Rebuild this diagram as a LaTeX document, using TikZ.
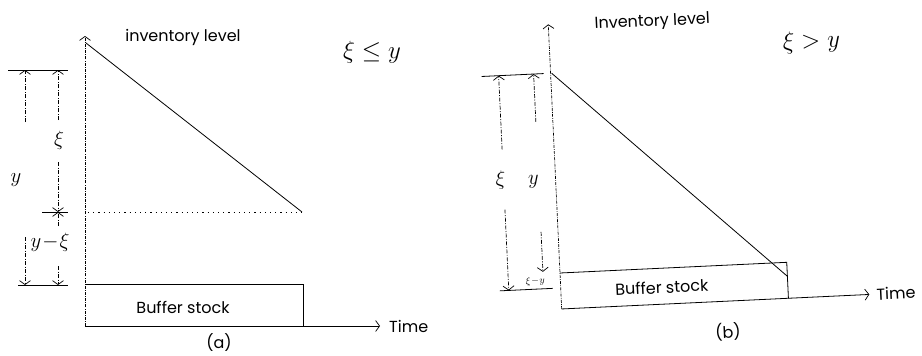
\documentclass[tikz,border=0pt]{standalone}
\usepackage{fontspec}
\setmainfont{Poppins}
\usetikzlibrary{arrows.meta}
\begin{document}
\begin{tikzpicture}[x=1pt,y=-1pt,
  >={Straight Barb[length=4pt,width=11pt,line width=0.7pt]},
  axisline/.style={line width=0.7pt, dash pattern=on 3pt off 1.2pt on 0.8pt off 1.2pt},
  dimline/.style={line width=0.7pt, dash pattern=on 4pt off 1.5pt on 1pt off 1.5pt},
  solidline/.style={line width=0.8pt},
  dotline/.style={line width=0.8pt, dash pattern=on 1.2pt off 4pt},
  lbl/.style={font=\fontsize{16}{18}\selectfont, inner sep=0pt},
  hand/.style={font=\fontsize{22}{24}\selectfont, inner sep=1pt},
  cond/.style={font=\fontsize{24}{26}\selectfont, inner sep=1pt},
  small/.style={font=\fontsize{10}{11}\selectfont, inner sep=0pt},
]
\useasboundingbox (0,0) rectangle (922,356);

% ---------------- panel (a) ----------------
\coordinate (aO) at (85,326);
\coordinate (aTop) at (85,36);
\draw[axisline,->] (aO) -- (aTop);
\node[lbl] (alev) at (183,37) {inventory level};
\node[cond] (acond) at (372,52) {$\xi \le y$};
\coordinate (aS) at (86,43);
\coordinate (aE) at (302,212);
\draw[solidline] (aS) -- (aE);
\coordinate (aD) at (88,212);
\draw[dotline] (aD) -- (aE);
\coordinate (aB1) at (85,284);
\coordinate (aB2) at (303,284);
\coordinate (aB3) at (303,326);
\draw[solidline] (aB1) -- (aB2) -- (aB3);
\node[lbl] (abuf) at (183,307) {Buffer stock};
\coordinate (aT) at (380,326);
\draw[solidline,->] (aO) -- (aT);
\node[lbl,anchor=west] (atime) at (389,326) {Time};
\node[lbl] (acap) at (219,343) {(a)};

% dimension ticks (a)
\coordinate (atk1l) at (8,70);   \coordinate (atk1r) at (68,70);
\coordinate (atk2l) at (42,212); \coordinate (atk2r) at (68,212);
\coordinate (atk3l) at (18,285); \coordinate (atk3r) at (68,285);
\draw[solidline] (atk1l) -- (atk1r);
\draw[solidline] (atk2l) -- (atk2r);
\draw[solidline] (atk3l) -- (atk3r);
% y
\coordinate (ay1) at (25,70);  \coordinate (aya) at (25,122);
\coordinate (ayb) at (25,237); \coordinate (ay2) at (25,285);
\draw[dimline,->] (aya) -- (ay1);
\draw[dimline,->] (ayb) -- (ay2);
\node[hand] (aylab) at (16,180) {$y$};
% xi
\coordinate (ax1) at (58,70);  \coordinate (axa) at (58,120);
\coordinate (axb) at (58,162); \coordinate (ax2) at (58,212);
\draw[dimline,->] (axa) -- (ax1);
\draw[dimline,->] (axb) -- (ax2);
\node[hand] (axlab) at (59,140) {$\xi$};
% y - xi
\coordinate (ar1) at (58,212); \coordinate (ara) at (58,226);
\coordinate (arb) at (58,266); \coordinate (ar2) at (58,285);
\draw[dimline,->] (ara) -- (ar1);
\draw[dimline,->] (arb) -- (ar2);
\node[hand] (arlab) at (50,242) {$y\!-\!\xi$};

% ---------------- panel (b) ----------------
\begin{scope}[shift={(560,273)}, rotate=2.7]
\coordinate (bO) at (0,36);
\coordinate (bTop) at (0,-249);
\draw[axisline,->] (bO) -- (bTop);
\node[lbl,rotate=2.7] (blev) at (104,-246) {Inventory level};
\node[cond,rotate=2.7] (bcond) at (262,-219) {$\xi > y$};
\coordinate (bS) at (1,-200);
\coordinate (bE) at (227,14);
\draw[solidline] (bS) -- (bE);
\coordinate (bB1) at (0,0);
\coordinate (bB2) at (227,0);
\coordinate (bB3) at (227,36);
\draw[solidline] (bB1) -- (bB2) -- (bB3);
\node[lbl,rotate=2.7] (bbuf) at (101,19) {Buffer stock};
\coordinate (bT) at (308,36);
\draw[solidline,->] (bO) -- (bT);
\node[lbl,anchor=west,rotate=2.7] (btime) at (315,36) {Time};
\node[lbl,rotate=2.7] (bcap) at (165,67) {(b)};

% dimension ticks (b)
\coordinate (btk1l) at (-69,-200); \coordinate (btk1r) at (-7,-200);
\coordinate (btk2l) at (-61,15);   \coordinate (btk2r) at (-8,15);
\draw[solidline] (btk1l) -- (btk1r);
\draw[solidline] (btk2l) -- (btk2r);
% xi
\coordinate (bx1) at (-52,-200); \coordinate (bxa) at (-52,-126);
\coordinate (bxb) at (-52,-66);  \coordinate (bx2) at (-52,15);
\draw[dimline,->] (bxa) -- (bx1);
\draw[dimline,->] (bxb) -- (bx2);
\node[hand,rotate=2.7] (bxlab) at (-55,-96) {$\xi$};
% y
\coordinate (by1) at (-17,-200); \coordinate (bya) at (-17,-152);
\coordinate (byb) at (-17,-42);  \coordinate (by2) at (-17,-2);
\draw[dimline,->] (bya) -- (by1);
\draw[dimline,->] (byb) -- (by2);
\node[hand,rotate=2.7] (bylab) at (-22,-92) {$y$};
\node[small,rotate=2.7] (brlab) at (-25,7) {$\xi\!-\!y$};
\end{scope}
\end{tikzpicture}
\end{document}
